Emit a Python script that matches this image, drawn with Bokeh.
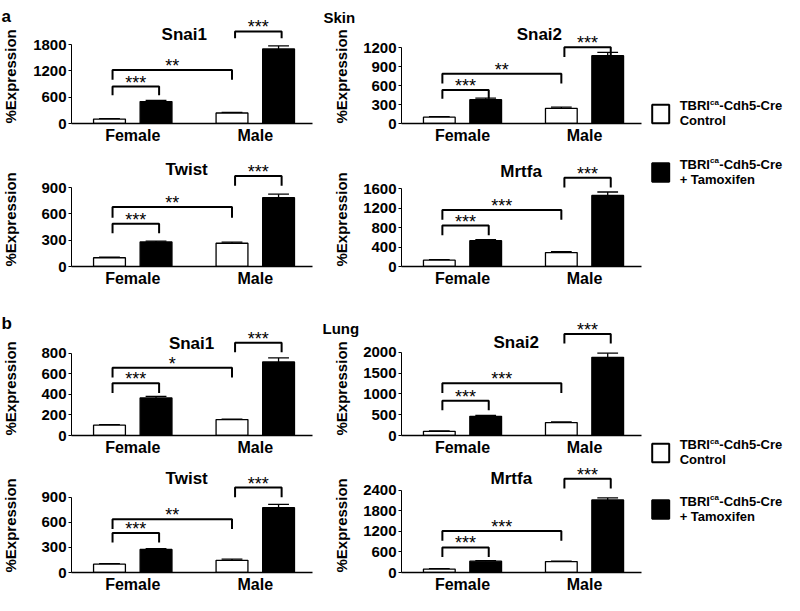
import math
from bokeh.plotting import figure
from bokeh.layouts import row, column
from bokeh.models import Range1d, FixedTicker, Label, ColumnDataSource
from bokeh.embed import file_html
from bokeh.resources import INLINE
from bokeh.core.properties import value

FONT = "Liberation Sans"

# ---------------- data ----------------
sexes = ["Female", "Male"]
genes = ["Snai1", "Snai2", "Twist", "Mrtfa"]
tissues = ["Skin", "Lung"]
panel_letters = ["a", "b"]
y_title = "%Expression"
legend_control = ["TBRI", "ca", "-Cdh5-Cre", "Control"]
legend_tamox = ["TBRI", "ca", "-Cdh5-Cre", "+ Tamoxifen"]

# Skin (% expression), [Female, Male]
skin_snai1_control = [100, 240]
skin_snai1_control_err = [8, 15]
skin_snai1_tamox = [500, 1700]
skin_snai1_tamox_err = [25, 70]
skin_snai1_ticks = [0, 600, 1200, 1800]
skin_snai1_sig = ["***", "**", "***"]

skin_snai2_control = [100, 240]
skin_snai2_control_err = [8, 20]
skin_snai2_tamox = [375, 1070]
skin_snai2_tamox_err = [25, 55]
skin_snai2_ticks = [0, 300, 600, 900, 1200]
skin_snai2_sig = ["***", "**", "***"]

skin_twist_control = [100, 265]
skin_twist_control_err = [8, 12]
skin_twist_tamox = [280, 785]
skin_twist_tamox_err = [10, 40]
skin_twist_ticks = [0, 300, 600, 900]
skin_twist_sig = ["***", "**", "***"]

skin_mrtfa_control = [130, 285]
skin_mrtfa_control_err = [12, 20]
skin_mrtfa_tamox = [530, 1460]
skin_mrtfa_tamox_err = [20, 70]
skin_mrtfa_ticks = [0, 400, 800, 1200, 1600]
skin_mrtfa_sig = ["***", "***", "***"]

# Lung
lung_snai1_control = [100, 155]
lung_snai1_control_err = [6, 5]
lung_snai1_tamox = [365, 715]
lung_snai1_tamox_err = [15, 40]
lung_snai1_ticks = [0, 200, 400, 600, 800]
lung_snai1_sig = ["***", "*", "***"]

lung_snai2_control = [100, 310]
lung_snai2_control_err = [10, 15]
lung_snai2_tamox = [460, 1880]
lung_snai2_tamox_err = [25, 100]
lung_snai2_ticks = [0, 500, 1000, 1500, 2000]
lung_snai2_sig = ["***", "***", "***"]

lung_twist_control = [100, 145]
lung_twist_control_err = [6, 15]
lung_twist_tamox = [275, 775]
lung_twist_tamox_err = [10, 40]
lung_twist_ticks = [0, 300, 600, 900]
lung_twist_sig = ["***", "**", "***"]

lung_mrtfa_control = [100, 320]
lung_mrtfa_control_err = [10, 15]
lung_mrtfa_tamox = [330, 2120]
lung_mrtfa_tamox_err = [20, 60]
lung_mrtfa_ticks = [0, 600, 1200, 1800, 2400]
lung_mrtfa_sig = ["***", "***", "***"]

# ---------------- layout / style ----------------
SX, SY = 0.98, 0.974
XMIN, XMAX = 0.5, 2.467
FRAME_W = 241
OFF, BW, CAP = 0.19, 0.26, 0.085
ROW_TOP = [0, 148, 290, 458]
ROW_FRAME = [123, 118, 146, 115]
ROW_BOTTOM = [25, 24, 22, 22]
STRIP_L, STRIP_R = 20, 38
PLOT_L_BORDER, PLOT_R_BORDER = 51, 40
PLOT_L_W, PLOT_R_W = 302, 287
LEG_W, TOTAL_H = 137, 595

# bracket heights (data units), leg lengths (px), tick/ title offsets (px above baseline)
layouts = {
    "skin_snai1": dict(br=[844, 1222, 2100], legs=[9, 10, 7], tick_above=81, title_above=91, title_x=1.42),
    "skin_snai2": dict(br=[528, 785, 1205], legs=[9, 10, 10], tick_above=78, title_above=91, title_x=1.63),
    "skin_twist": dict(br=[489, 678, 1033], legs=[10, 11, 10], tick_above=81, title_above=100, title_x=1.44),
    "skin_mrtfa": dict(br=[840, 1160, 1820], legs=[10, 10, 10], tick_above=80, title_above=98, title_x=1.48),
    "lung_snai1": dict(br=[508, 659, 903], legs=[10, 10, 10], tick_above=85, title_above=95, title_x=1.48),
    "lung_snai2": dict(br=[837, 1256, 2442], legs=[10, 10, 10], tick_above=86, title_above=96, title_x=1.44),
    "lung_twist": dict(br=[473, 635, 1015], legs=[10, 10, 10], tick_above=78, title_above=97, title_x=1.44),
    "lung_mrtfa": dict(br=[734, 1214, 2739], legs=[10, 10, 10], tick_above=85, title_above=97, title_x=1.40),
}


def uy(r):
    return r * SY


def ux(r):
    return r * SX


def bare_figure(w, h, xr, yr, **kw):
    f = figure(width=w, height=h, x_range=xr, y_range=yr, output_backend="svg",
               toolbar_location=None, **kw)
    f.outline_line_color = None
    f.xgrid.visible = False
    f.ygrid.visible = False
    return f


def make_panel(key, gene, ctrl, ctrl_err, tam, tam_err, ticks, sig, col, r):
    lay = layouts[key]
    fw = PLOT_L_W if col == 0 else PLOT_R_W
    bl = PLOT_L_BORDER if col == 0 else PLOT_R_BORDER
    brd = fw - bl - FRAME_W
    fh, bb = ROW_FRAME[r], ROW_BOTTOM[r]
    ppu = lay["tick_above"] * SY / ticks[-1]
    p = bare_figure(fw, fh + bb, Range1d(XMIN, XMAX), Range1d(0, fh / ppu),
                    min_border_left=bl, min_border_right=brd, min_border_top=0, min_border_bottom=bb)

    centers = [i + 1 for i in range(len(sexes))]
    xc = [c - OFF for c in centers]
    xt = [c + OFF for c in centers]

    xa = p.xaxis[0]
    xa.ticker = FixedTicker(ticks=centers)
    xa.major_label_overrides = {c: s for c, s in zip(centers, sexes)}
    xa.major_tick_line_color = None
    xa.major_tick_out = 0
    xa.major_tick_in = 0
    xa.minor_tick_line_color = None
    xa.minor_tick_out = 0
    xa.axis_line_color = "black"
    xa.axis_line_width = 1.3
    xa.major_label_text_font = FONT
    xa.major_label_text_font_style = "bold"
    xa.major_label_text_font_size = "16px"
    xa.major_label_text_color = "black"
    xa.major_label_standoff = 3

    ya = p.yaxis[0]
    ya.ticker = FixedTicker(ticks=ticks)
    ya.bounds = (0, ticks[-1])
    ya.major_tick_out = 3
    ya.major_tick_in = 0
    ya.minor_tick_line_color = None
    ya.minor_tick_out = 0
    ya.axis_line_color = "black"
    ya.major_tick_line_color = "black"
    ya.major_label_text_font = FONT
    ya.major_label_text_font_style = "bold"
    ya.major_label_text_font_size = "15px"
    ya.major_label_text_color = "black"
    ya.major_label_standoff = 2

    for xs, vals, errs, fill in ((xc, ctrl, ctrl_err, "white"), (xt, tam, tam_err, "black")):
        src = ColumnDataSource(dict(
            x=xs, top=vals, etop=[v + e for v, e in zip(vals, errs)],
            xl=[x - CAP for x in xs], xr=[x + CAP for x in xs]))
        p.segment(x0="x", y0="top", x1="x", y1="etop", source=src, line_color="black", line_width=1.3)
        p.segment(x0="xl", y0="etop", x1="xr", y1="etop", source=src, line_color="black", line_width=1.3)
        p.vbar(x="x", top="top", bottom=0, width=BW, source=src, fill_color=fill,
               line_color="black", line_width=1.3)

    s = 0.025
    pairs = [(xc[0] + s, xt[0] + s), (xc[0] + s, xc[1]), (xc[1] + s, xt[1] + s)]
    bxs, bys, mx, my = [], [], [], []
    for (x0, x1), yb, leg in zip(pairs, lay["br"], lay["legs"]):
        dl = leg * SY / ppu
        bxs.append([x0, x0, x1, x1])
        bys.append([yb - dl, yb, yb, yb - dl])
        mx.append((x0 + x1) / 2)
        my.append(yb + 4 / ppu)
    p.multi_line(xs=bxs, ys=bys, line_color="black", line_width=2)
    p.text(x=mx, y=my, text=sig, text_align="center", text_baseline="middle",
           text_font=value(FONT), text_font_size=value("18px"), text_color="black")

    p.add_layout(Label(x=lay["title_x"], y=lay["title_above"] * SY / ppu, text=gene,
                       text_font=FONT, text_font_style="bold", text_font_size="17px",
                       text_align="center", text_baseline="middle", text_color="black"))
    return p


def make_strip(width, r, ylab_cx, extras):
    """Text column left of a panel; same top/bottom borders as the panels so frames line up.
    Data units: x = px from the left, y = px above the panel baseline."""
    fh, bb = ROW_FRAME[r], ROW_BOTTOM[r]
    s = bare_figure(width, fh + bb, Range1d(0, width), Range1d(0, fh),
                    min_border_left=0, min_border_right=0, min_border_top=0,
                    min_border_bottom=bb, x_axis_location=None, y_axis_location=None)
    s.add_layout(Label(x=ylab_cx, y=0, text=y_title, angle=math.pi / 2,
                       text_font=FONT, text_font_style="bold", text_font_size="15px",
                       text_align="left", text_baseline="middle", text_color="black"))
    for txt, lx, ly, size in extras:
        s.add_layout(Label(x=lx, y=fh - ly, text=txt, text_font=FONT, text_font_style="bold",
                           text_font_size=size, text_align="left", text_baseline="alphabetic",
                           text_color="black"))
    s.scatter(x=[0], y=[0], size=0, alpha=0)
    return s


p1 = make_panel("skin_snai1", genes[0], skin_snai1_control, skin_snai1_control_err,
                skin_snai1_tamox, skin_snai1_tamox_err, skin_snai1_ticks, skin_snai1_sig, 0, 0)
p2 = make_panel("skin_snai2", genes[1], skin_snai2_control, skin_snai2_control_err,
                skin_snai2_tamox, skin_snai2_tamox_err, skin_snai2_ticks, skin_snai2_sig, 1, 0)
p3 = make_panel("skin_twist", genes[2], skin_twist_control, skin_twist_control_err,
                skin_twist_tamox, skin_twist_tamox_err, skin_twist_ticks, skin_twist_sig, 0, 1)
p4 = make_panel("skin_mrtfa", genes[3], skin_mrtfa_control, skin_mrtfa_control_err,
                skin_mrtfa_tamox, skin_mrtfa_tamox_err, skin_mrtfa_ticks, skin_mrtfa_sig, 1, 1)
p5 = make_panel("lung_snai1", genes[0], lung_snai1_control, lung_snai1_control_err,
                lung_snai1_tamox, lung_snai1_tamox_err, lung_snai1_ticks, lung_snai1_sig, 0, 2)
p6 = make_panel("lung_snai2", genes[1], lung_snai2_control, lung_snai2_control_err,
                lung_snai2_tamox, lung_snai2_tamox_err, lung_snai2_ticks, lung_snai2_sig, 1, 2)
p7 = make_panel("lung_twist", genes[2], lung_twist_control, lung_twist_control_err,
                lung_twist_tamox, lung_twist_tamox_err, lung_twist_ticks, lung_twist_sig, 0, 3)
p8 = make_panel("lung_mrtfa", genes[3], lung_mrtfa_control, lung_mrtfa_control_err,
                lung_mrtfa_tamox, lung_mrtfa_tamox_err, lung_mrtfa_ticks, lung_mrtfa_sig, 1, 3)

yl_l = 10
yl_r = ux(348) - (STRIP_L + PLOT_L_W)
s1 = make_strip(STRIP_L, 0, yl_l, [(panel_letters[0], 1, 16, "17px")])
s2 = make_strip(STRIP_R, 0, yl_r, [(tissues[0], 1, uy(17), "15px")])
s3 = make_strip(STRIP_L, 1, yl_l, [])
s4 = make_strip(STRIP_R, 1, yl_r, [])
s5 = make_strip(STRIP_L, 2, yl_l, [(panel_letters[1], 1, uy(332) - ROW_TOP[2], "17px")])
s6 = make_strip(STRIP_R, 2, yl_r, [(tissues[1], 0, uy(337) - ROW_TOP[2], "15px")])
s7 = make_strip(STRIP_L, 3, yl_l, [])
s8 = make_strip(STRIP_R, 3, yl_r, [])

# ---------------- legend column ----------------
lg = bare_figure(LEG_W, TOTAL_H, Range1d(0, LEG_W), Range1d(TOTAL_H, 0),
                 min_border_left=0, min_border_right=0, min_border_top=0, min_border_bottom=0,
                 x_axis_location=None, y_axis_location=None)

LEFT_TOTAL = STRIP_L + PLOT_L_W + STRIP_R + PLOT_R_W
box_left, box_w, box_h = ux(665) - LEFT_TOTAL, 17, 18.5
text_x = ux(693) - LEFT_TOTAL
box_tops = [uy(107), uy(167), uy(455), uy(513)]
entries = [legend_control, legend_tamox, legend_control, legend_tamox]
fills = ["white", "black", "white", "black"]
lg.quad(left=[box_left] * 4, right=[box_left + box_w] * 4, top=box_tops,
        bottom=[t + box_h for t in box_tops], fill_color=fills, line_color="black", line_width=2)
w_main = 2.333 * 13
w_sup = 1.112 * 8 + 0.5
for t, ent in zip(box_tops, entries):
    l1 = t + 1
    l2 = t + 16
    lg.text(x=[text_x], y=[l1], text=[ent[0]], text_baseline="middle",
            text_font=value(FONT), text_font_style="bold", text_font_size=value("13px"), text_color="black")
    lg.text(x=[text_x + w_main], y=[l1 - 3.5], text=[ent[1]], text_baseline="middle",
            text_font=value(FONT), text_font_style="bold", text_font_size=value("8px"), text_color="black")
    lg.text(x=[text_x + w_main + w_sup], y=[l1], text=[ent[2]], text_baseline="middle",
            text_font=value(FONT), text_font_style="bold", text_font_size=value("13px"), text_color="black")
    lg.text(x=[text_x], y=[l2], text=[ent[3]], text_baseline="middle",
            text_font=value(FONT), text_font_style="bold", text_font_size=value("13px"), text_color="black")

grid = column(row(s1, p1, s2, p2), row(s3, p3, s4, p4), row(s5, p5, s6, p6), row(s7, p7, s8, p8))
page = row(grid, lg)

open("out.html", "w").write(file_html(page, INLINE))
